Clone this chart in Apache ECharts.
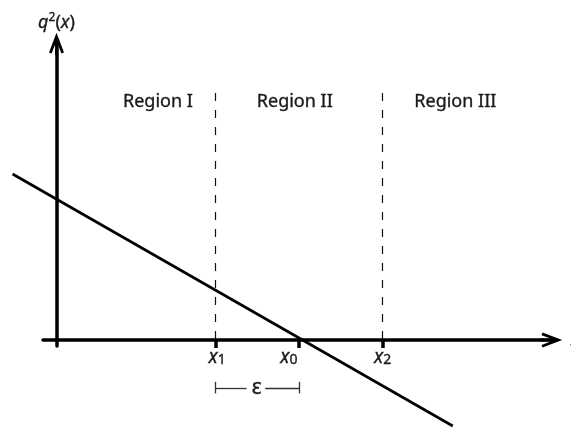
<!DOCTYPE html>
<html>
<head>
<meta charset="utf-8">
<script src="https://cdn.jsdelivr.net/npm/echarts@6/dist/echarts.min.js"></script>
<style>
    html, body { margin: 0; padding: 0; background: #fff; }
    #chart { width: 571px; height: 429px; }
</style>
</head>
<body>
<div id="chart"></div>
<script>
// 数据
var lineX = [-0.52, 4.69];
var lineY = [8.3, -4.3];
var tickValues = [1.88, 2.87, 3.86];
var tickLabelPos = [1.9, 2.75, 3.86];
var tickSubs = ['1', '0', '2'];
var boundaryX = [1.88, 3.86];
var boundaryTop = 12.35;
var regionNames = ['Region I', 'Region II', 'Region III'];
var regionX = [1.2, 2.82, 4.72];
var regionY = 11.9;
var epsX = [1.88, 2.25, 2.47, 2.87];
var epsY = -2.4;
var epsTick = [-2.09, -2.67];
var epsLabelX = 2.37;

(function() {
    var myChart = echarts.init(document.getElementById('chart'));
    var W = 571, H = 429;
    var ox = 56.5, oy = 340, ux = 84.5, uy = 20;
    var g0 = { left: 43, right: 20, top: 44, bottom: 83 };
    var ink = '#000';
    var txt = '#1a1a1a';
    // 文字稍微加粗一点
    var bold = { textBorderColor: txt, textBorderWidth: 0.35 };
    var arrow = 'path://M8,0L16,21L13.2,22.1L9.5,12.4L9.5,24L6.5,24L6.5,12.4L2.8,22.1L0,21Z';

    var lineData = lineX.map(function(x, i) { return [x, lineY[i]]; });
    var regionData = regionNames.map(function(n, i) {
        return { name: n, value: [regionX[i], regionY] };
    });
    var boundaryLines = boundaryX.map(function(x) {
        return [{ coord: [x, boundaryTop] }, { coord: [x, 0] }];
    });
    var epsLines = [
        [{ coord: [epsX[0], epsY] }, { coord: [epsX[1], epsY] }],
        [{ coord: [epsX[2], epsY] }, { coord: [epsX[3], epsY] }],
        [{ coord: [epsX[0], epsTick[0]] }, { coord: [epsX[0], epsTick[1]] }],
        [{ coord: [epsX[3], epsTick[0]] }, { coord: [epsX[3], epsTick[1]] }]
    ];

    function st(o) { return Object.assign({ color: txt, fontFamily: 'Noto Sans' }, bold, o); }

    var option = {
        animation: false,
        backgroundColor: '#fff',
        textStyle: { fontFamily: 'Noto Sans' },
        grid: [
            { left: g0.left, right: g0.right, top: g0.top, bottom: g0.bottom, outerBoundsMode: 'none' },
            { left: 0, right: 0, top: 0, bottom: 0, outerBoundsMode: 'none' }
        ],
        xAxis: [{
            type: 'value',
            gridIndex: 0,
            min: (g0.left - ox) / ux,
            max: (W - g0.right - ox) / ux,
            splitLine: { show: false },
            axisLine: {
                onZero: true,
                symbol: ['none', arrow],
                symbolSize: [15, 26],
                lineStyle: { color: ink, width: 3.5 }
            },
            axisTick: {
                show: true,
                customValues: tickValues,
                length: 8,
                lineStyle: { color: ink, width: 3.5 }
            },
            axisLabel: {
                customValues: tickLabelPos,
                margin: -1,
                formatter: function(v) {
                    var i = 0;
                    tickLabelPos.forEach(function(p, k) { if (Math.abs(p - v) < 1e-6) i = k; });
                    return '{x|x}{s|' + tickSubs[i] + '}';
                },
                rich: {
                    x: st({ fontSize: 19, fontStyle: 'italic', lineHeight: 22, verticalAlign: 'bottom' }),
                    s: st({ fontSize: 14, lineHeight: 13, verticalAlign: 'bottom' })
                }
            },
            name: 'x',
            nameLocation: 'end',
            nameGap: 20,
            nameTextStyle: st({ fontSize: 18, fontStyle: 'italic' })
        }, {
            type: 'value',
            gridIndex: 1,
            min: -ox / ux,
            max: (W - ox) / ux,
            show: false
        }],
        yAxis: [{
            type: 'value',
            gridIndex: 0,
            min: (oy - (H - g0.bottom)) / uy,
            max: (oy - g0.top) / uy,
            splitLine: { show: false },
            axisTick: { show: false },
            axisLabel: { show: false },
            axisLine: {
                onZero: true,
                symbol: ['none', arrow],
                symbolSize: [15, 24],
                lineStyle: { color: ink, width: 3.5 }
            },
            name: '{i|q}{p|2}{n|(}{i|x}{n|)}',
            nameLocation: 'end',
            nameGap: 12,
            nameTextStyle: {
                rich: {
                    i: st({ fontSize: 18, fontStyle: 'italic', lineHeight: 20, verticalAlign: 'bottom' }),
                    n: st({ fontSize: 18, lineHeight: 20, verticalAlign: 'bottom' }),
                    p: st({ fontSize: 12, lineHeight: 12, verticalAlign: 'top' })
                }
            }
        }, {
            type: 'value',
            gridIndex: 1,
            min: (oy - H) / uy,
            max: oy / uy,
            show: false
        }],
        series: [{
            name: 'q2',
            type: 'line',
            xAxisIndex: 1,
            yAxisIndex: 1,
            data: lineData,
            symbol: 'none',
            silent: true,
            lineStyle: { color: ink, width: 2.6 },
            z: 3
        }, {
            name: 'regions',
            type: 'scatter',
            xAxisIndex: 1,
            yAxisIndex: 1,
            data: regionData,
            symbolSize: 0,
            silent: true,
            itemStyle: { opacity: 1 },
            label: st({
                show: true,
                opacity: 1,
                position: 'inside',
                formatter: '{b}',
                fontSize: 18
            }),
            markLine: {
                silent: true,
                symbol: ['none', 'none'],
                label: { show: false },
                lineStyle: { color: '#111', width: 1.2, type: [8, 9], opacity: 1 },
                data: boundaryLines
            }
        }, {
            name: 'epsilon',
            type: 'scatter',
            xAxisIndex: 1,
            yAxisIndex: 1,
            data: [{ name: 'ε', value: [epsLabelX, epsY] }],
            symbolSize: 0,
            silent: true,
            itemStyle: { opacity: 1 },
            label: st({
                show: true,
                opacity: 1,
                position: 'inside',
                formatter: '{b}',
                fontSize: 21
            }),
            markLine: {
                silent: true,
                symbol: ['none', 'none'],
                label: { show: false },
                lineStyle: { color: '#333', width: 1.3, type: 'solid', opacity: 1 },
                data: epsLines
            }
        }]
    };
    myChart.setOption(option);
}());
</script>
</body>
</html>
